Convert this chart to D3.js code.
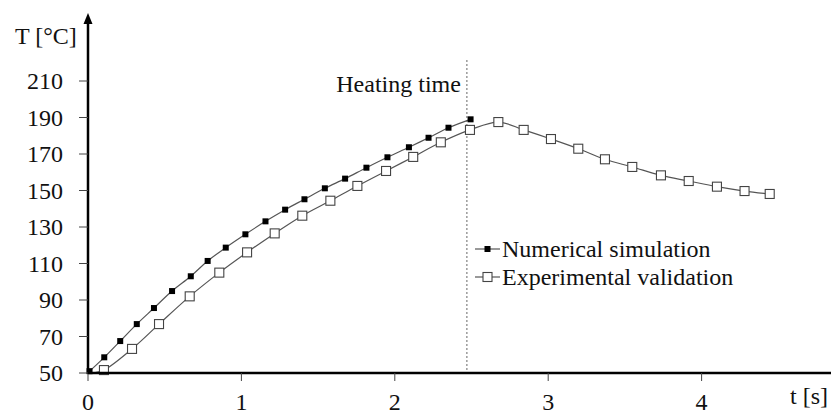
<!DOCTYPE html>
<html lang="en">
<head>
    <meta charset="UTF-8">
    <title>Heating curve</title>
    <style>
        body { margin: 0; background: #fff; }
        svg { display: block; }
        text { font-family: "Liberation Serif", "DejaVu Serif", serif; fill: #111; }
    </style>
</head>
<body>
    <div id="chart"></div>
    <script src="https://d3js.org/d3.v7.min.js"></script>
    <script>
        // values
        const numT    = [0.01, 0.106, 0.21, 0.318, 0.43, 0.548, 0.67, 0.78, 0.898, 1.026, 1.157, 1.285, 1.411, 1.544, 1.676, 1.815, 1.952, 2.092, 2.22, 2.35, 2.494];
        const numTemp = [51, 58.6, 67.5, 76.8, 85.6, 94.9, 103, 111.4, 118.7, 126, 133.1, 139.5, 145.2, 151.2, 156.5, 162.5, 168.2, 173.7, 178.9, 184.4, 189];

        const expT    = [0.104, 0.287, 0.463, 0.663, 0.856, 1.037, 1.217, 1.397, 1.58, 1.756, 1.943, 2.12, 2.3, 2.49, 2.675, 2.84, 3.018, 3.196, 3.37, 3.548, 3.735, 3.916, 4.1, 4.28, 4.444];
        const expTemp = [51.6, 63.2, 76.8, 92, 105, 116.1, 126.5, 136.2, 144.4, 152.5, 160.7, 168.4, 176.4, 183.2, 187.5, 183.2, 178.2, 172.9, 167.1, 162.9, 158.3, 155.2, 152.1, 149.7, 148.1];
        const expStart = [0.03, 50];   // curve starts here, no marker

        const xTicks = [0, 1, 2, 3, 4];
        const yTicks = [50, 70, 90, 110, 130, 150, 170, 190, 210];
        const heatingTime = 2.47;
        const seriesNames = ['Numerical simulation', 'Experimental validation'];

        const width = 831, height = 417;
        const fs = 24;

        const x = d3.scaleLinear().domain([0, 4]).range([88, 701.6]);
        const y = d3.scaleLinear().domain([50, 210]).range([373, 81]);

        const svg = d3.select('#chart').append('svg')
            .attr('width', width)
            .attr('height', height);

        const numData = numT.map((t, i) => [t, numTemp[i]]);
        const expData = expT.map((t, i) => [t, expTemp[i]]);

        const line = d3.line()
            .x(d => x(d[0]))
            .y(d => y(d[1]))
            .curve(d3.curveCatmullRom.alpha(0.5));

        // heating time marker
        svg.append('line')
            .attr('x1', x(heatingTime)).attr('x2', x(heatingTime))
            .attr('y1', 60).attr('y2', y(50))
            .attr('stroke', '#666')
            .attr('stroke-width', 1)
            .attr('stroke-dasharray', '2,2');

        svg.append('text')
            .attr('x', x(heatingTime) - 6)
            .attr('y', 92)
            .attr('text-anchor', 'end')
            .attr('font-size', fs)
            .text('Heating time');

        // curves
        svg.append('path')
            .datum([expStart].concat(expData))
            .attr('d', line)
            .attr('fill', 'none')
            .attr('stroke', '#555')
            .attr('stroke-width', 1.2);

        svg.append('path')
            .datum(numData)
            .attr('d', line)
            .attr('fill', 'none')
            .attr('stroke', '#555')
            .attr('stroke-width', 1.2);

        svg.selectAll('rect.exp')
            .data(expData)
            .join('rect')
            .attr('class', 'exp')
            .attr('x', d => x(d[0]) - 4.5)
            .attr('y', d => y(d[1]) - 4.5)
            .attr('width', 9).attr('height', 9)
            .attr('fill', '#fff')
            .attr('stroke', '#444')
            .attr('stroke-width', 1.1);

        svg.selectAll('rect.num')
            .data(numData)
            .join('rect')
            .attr('class', 'num')
            .attr('x', d => x(d[0]) - 3)
            .attr('y', d => y(d[1]) - 3)
            .attr('width', 6).attr('height', 6)
            .attr('fill', '#000');

        // axes
        const xAxis = svg.append('g').attr('transform', `translate(0,${y(50)})`);
        xAxis.append('line')
            .attr('x1', x(0)).attr('x2', width)
            .attr('stroke', '#000').attr('stroke-width', 2.5);
        xAxis.selectAll('line.tick')
            .data(xTicks)
            .join('line')
            .attr('class', 'tick')
            .attr('x1', d => x(d)).attr('x2', d => x(d))
            .attr('y1', 0).attr('y2', 8)
            .attr('stroke', '#444').attr('stroke-width', 1);
        xAxis.selectAll('text')
            .data(xTicks)
            .join('text')
            .attr('x', d => x(d))
            .attr('y', 37)
            .attr('text-anchor', 'middle')
            .attr('font-size', fs)
            .text(d => d);

        const yAxis = svg.append('g').attr('transform', `translate(${x(0)},0)`);
        yAxis.append('line')
            .attr('y1', y(50) + 1).attr('y2', 20)
            .attr('stroke', '#000').attr('stroke-width', 2.5);
        yAxis.append('path')
            .attr('d', 'M0,13L-4.5,24L4.5,24Z')
            .attr('fill', '#000');
        yAxis.selectAll('line.tick')
            .data(yTicks)
            .join('line')
            .attr('class', 'tick')
            .attr('x1', -9).attr('x2', 0)
            .attr('y1', d => y(d)).attr('y2', d => y(d))
            .attr('stroke', '#444').attr('stroke-width', 1);
        yAxis.selectAll('text')
            .data(yTicks)
            .join('text')
            .attr('x', -25)
            .attr('y', d => y(d) + 8)
            .attr('text-anchor', 'end')
            .attr('font-size', fs)
            .text(d => d);

        svg.append('text')
            .attr('x', 15).attr('y', 44)
            .attr('font-size', fs)
            .text('T [°C]');

        svg.append('text')
            .attr('x', 828).attr('y', 404)
            .attr('text-anchor', 'end')
            .attr('font-size', fs)
            .text('t [s]');

        // legend
        const legend = svg.append('g').attr('transform', 'translate(475,249)');
        seriesNames.forEach((name, i) => {
            const row = legend.append('g').attr('transform', `translate(0,${i * 28})`);
            row.append('line')
                .attr('x1', 0).attr('x2', 25)
                .attr('stroke', '#555').attr('stroke-width', 1.2);
            if (i === 0) {
                row.append('rect')
                    .attr('x', 9.5).attr('y', -3)
                    .attr('width', 6).attr('height', 6)
                    .attr('fill', '#000');
            } else {
                row.append('rect')
                    .attr('x', 8).attr('y', -4.5)
                    .attr('width', 9).attr('height', 9)
                    .attr('fill', '#fff')
                    .attr('stroke', '#444').attr('stroke-width', 1.1);
            }
            row.append('text')
                .attr('x', 27).attr('y', 8)
                .attr('font-size', fs)
                .text(name);
        });
    </script>
</body>
</html>
